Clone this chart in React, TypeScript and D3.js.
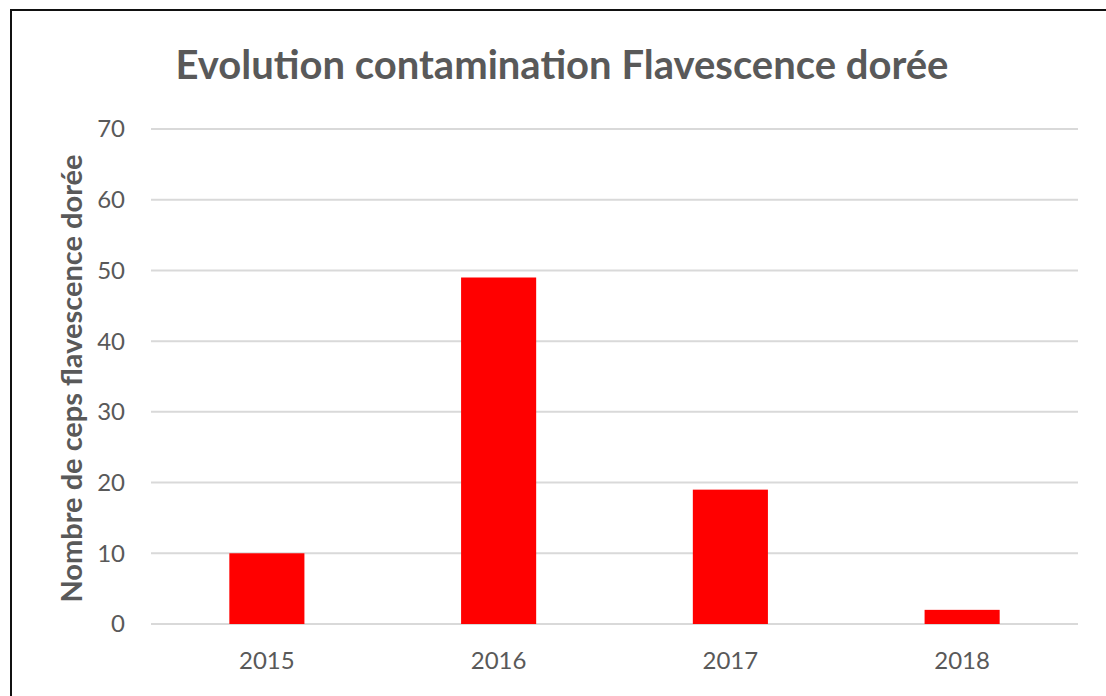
import React from "react";
import * as d3 from "d3";

const categories = ["2015", "2016", "2017", "2018"];
const values = [10, 49, 19, 2];
const yTicks = [0, 10, 20, 30, 40, 50, 60, 70];
const title = "Evolution contamination Flavescence dorée";
const yTitle = "Nombre de ceps flavescence dorée";

const W = 1106;
const H = 696;
const margin = { left: 151, right: 1078, top: 129, bottom: 624 };
const FONT = "Lato, 'Open Sans', sans-serif";

export default function App() {
  const x = d3
    .scaleBand<string>()
    .domain(categories)
    .range([margin.left, margin.right])
    .paddingInner(0.676)
    .paddingOuter(0.338);
  const y = d3.scaleLinear().domain([0, 70]).range([margin.bottom, margin.top]);

  return (
    <svg
      width={W}
      height={H}
      style={{ position: "absolute", left: 0, top: 0, background: "#fff" }}
    >
      <rect x={0} y={0} width={W} height={H} fill="#fff" />
      <rect x={11} y={10} width={W + 20} height={H + 20} fill="none" stroke="#111" strokeWidth={2} />
      <text
        x={562}
        y={79}
        textAnchor="middle"
        fontFamily={FONT}
        fontWeight="bold"
        fontSize={40}
        fill="#595959"
      >
        {title}
      </text>
      {yTicks.map((t) => (
        <g key={t}>
          <line
            x1={margin.left}
            x2={margin.right}
            y1={y(t)}
            y2={y(t)}
            stroke="#d9d9d9"
            strokeWidth={2}
          />
          <text
            x={125}
            y={y(t)}
            dy="0.35em"
            textAnchor="end"
            fontFamily={FONT}
            fontSize={24}
            fill="#595959"
          >
            {t}
          </text>
        </g>
      ))}
      {categories.map((c, i) => (
        <rect
          key={c}
          x={x(c)}
          y={y(values[i])}
          width={x.bandwidth()}
          height={y(0) - y(values[i])}
          fill="#ff0000"
        />
      ))}
      {categories.map((c) => (
        <text
          key={c}
          x={(x(c) as number) + x.bandwidth() / 2}
          y={661}
          dy="0.35em"
          textAnchor="middle"
          fontFamily={FONT}
          fontSize={24}
          fill="#595959"
        >
          {c}
        </text>
      ))}
      <text
        transform={`translate(72,${(margin.top + margin.bottom) / 2 + 2}) rotate(-90)`}
        textAnchor="middle"
        dy="0.35em"
        fontFamily={FONT}
        fontWeight="bold"
        fontSize={29}
        fill="#595959"
      >
        {yTitle}
      </text>
    </svg>
  );
}
